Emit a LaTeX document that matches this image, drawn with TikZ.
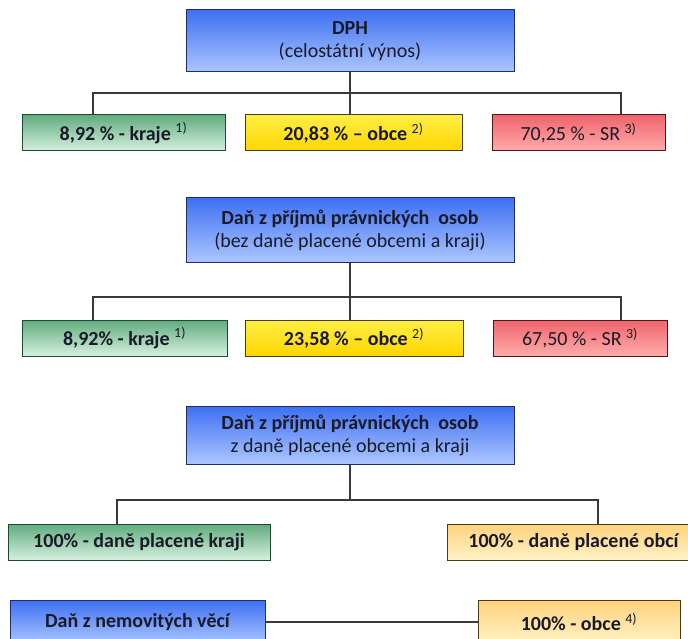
\documentclass[tikz,border=0pt]{standalone}
\usepackage{fontspec}
\setmainfont{Carlito}
\usetikzlibrary{calc}
\definecolor{txt}{HTML}{1A1A28}
\definecolor{wire}{HTML}{3A3A3A}
\definecolor{bluedge}{HTML}{1E2E66}
\definecolor{greenedge}{HTML}{1F4A30}
\definecolor{yellowedge}{HTML}{4A4000}
\definecolor{rededge}{HTML}{4A1A1A}
\definecolor{orangeedge}{HTML}{4A3A1A}
\definecolor{bluetop}{RGB}{62,112,242}
\definecolor{bluebot}{RGB}{172,198,255}
\definecolor{greentop}{RGB}{96,172,126}
\definecolor{greenbot}{RGB}{214,240,224}
\definecolor{yellowtop}{RGB}{255,238,70}
\definecolor{yellowbot}{RGB}{255,214,0}
\definecolor{redtop}{RGB}{240,100,108}
\definecolor{redbot}{RGB}{255,172,172}
\definecolor{orangetop}{RGB}{255,210,124}
\definecolor{orangebot}{RGB}{255,242,198}
\begin{document}
\begin{tikzpicture}[x=1pt,y=-1pt,
  box/.style={draw=#1, line width=1pt, inner sep=0pt, align=center,
    text=txt, font=\bfseries\fontsize{20}{23}\selectfont},
  bluebox/.style={box=bluedge, top color=bluetop, bottom color=bluebot},
  greenbox/.style={box=greenedge, top color=greentop, bottom color=greenbot},
  yellowbox/.style={box=yellowedge, top color=yellowtop, bottom color=yellowbot},
  redbox/.style={box=rededge, top color=redtop, bottom color=redbot},
  orangebox/.style={box=orangeedge, top color=orangetop, bottom color=orangebot},
  wirestyle/.style={draw=wire, line width=1.2pt}
]
\newcommand{\note}[1]{\textsuperscript{\mdseries #1)}}
\useasboundingbox (0,0) rectangle (688,639);
\begin{scope}
\clip (0,0) rectangle (688,639);

% --- DPH ---
\node[bluebox, minimum width=328pt, minimum height=62pt] (dph) at (350,41)
  {DPH\\{\mdseries (celostátní výnos)}};
\node[greenbox, minimum width=203pt, minimum height=36pt] (g1) at (123.5,133)
  {8,92 \% - kraje \note{1}};
\node[yellowbox, minimum width=217pt, minimum height=36pt] (y1) at (353.5,133)
  {20,83 \% – obce \note{2}};
\node[redbox, minimum width=173pt, minimum height=36pt] (r1) at (578.5,133)
  {\mdseries 70,25 \% - SR \note{3}};
\coordinate (a1) at (93,93);
\coordinate (b1) at (621,93);
\draw[wirestyle] (a1 |- g1.north) -- (a1) -- (b1) -- (b1 |- r1.north);
\draw[wirestyle] (dph.south) -- (dph.south |- y1.north);

% --- Dan z prijmu pravnickych osob (bez dane placene obcemi a kraji) ---
\node[bluebox, minimum width=328pt, minimum height=64pt] (pp1) at (350,230)
  {Daň z příjmů právnických\ \ osob\\{\mdseries (bez daně placené obcemi a kraji)}};
\node[greenbox, minimum width=205pt, minimum height=36pt] (g2) at (124.5,338)
  {8,92\% - kraje \note{1}};
\node[yellowbox, minimum width=218pt, minimum height=36pt] (y2) at (354,338)
  {23,58 \% – obce \note{2}};
\node[redbox, minimum width=174pt, minimum height=36pt] (r2) at (580,338)
  {\mdseries 67,50 \% - SR \note{3}};
\coordinate (a2) at (93,297);
\coordinate (b2) at (621,297);
\draw[wirestyle] (a2 |- g2.north) -- (a2) -- (b2) -- (b2 |- r2.north);
\draw[wirestyle] (pp1.south) -- (pp1.south |- y2.north);

% --- Dan z prijmu pravnickych osob z dane placene obcemi a kraji ---
\node[bluebox, minimum width=328pt, minimum height=58pt] (pp2) at (350,435)
  {Daň z příjmů právnických\ \ osob\\{\mdseries z daně placené obcemi a kraji}};
\node[greenbox, minimum width=262pt, minimum height=36pt] (g3) at (139,542)
  {100\% - daně placené kraji};
\node[orangebox, minimum width=253pt, minimum height=36pt] (o3) at (573.5,542)
  {100\% - daně placené obcí};
\coordinate (a3) at (117,500);
\coordinate (b3) at (598,500);
\coordinate (c3) at (350,500);
\draw[wirestyle] (a3 |- g3.north) -- (a3) -- (b3) -- (b3 |- o3.north);
\draw[wirestyle] (pp2.south) -- (c3);

% --- Dan z nemovitych veci ---
\node[bluebox, minimum width=255pt, minimum height=44pt] (nv) at (137.5,622)
  {Daň z nemovitých věcí};
\node[orangebox, minimum width=202pt, minimum height=44pt] (o4) at (579,622)
  {100\% - obce \note{4}};
\draw[wirestyle] (nv.east) -- (o4.west);
\end{scope}
\end{tikzpicture}
\end{document}
